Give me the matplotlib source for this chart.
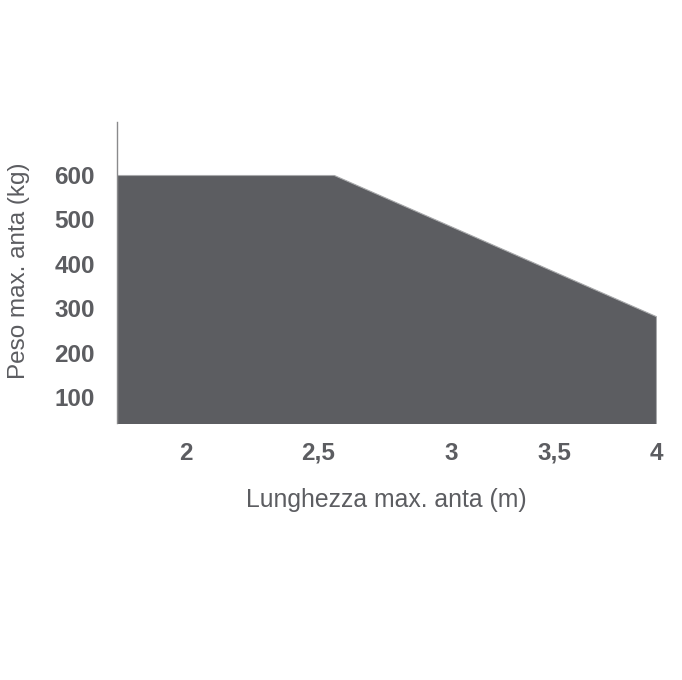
import numpy as np
import matplotlib
matplotlib.use('Agg')
import matplotlib.pyplot as plt

# data
length_m = [1.74, 2.56, 4.0]
weight_kg = [600, 600, 282]

x_ticks = [2, 2.5, 3, 3.5, 4]
x_tick_labels = ['2', '2,5', '3', '3,5', '4']
y_ticks = [100, 200, 300, 400, 500, 600]
y_tick_labels = ['100', '200', '300', '400', '500', '600']

# the original axis is not evenly spaced: piecewise-linear scale
scale_in = [1.5, 2, 2.5, 3, 3.5, 4]
scale_out = [-132.5, 0, 132, 265, 368, 470]


def forward(x):
    return np.interp(x, scale_in, scale_out)


def inverse(x):
    return np.interp(x, scale_out, scale_in)


plt.rcParams['font.family'] = ['Liberation Sans', 'DejaVu Sans']
text_color = '#5c5d61'

fig = plt.figure(figsize=(6.82, 6.80), dpi=100)
ax = fig.add_axes([117 / 682, 1 - 423 / 680, (656 - 117) / 682, (423 - 122) / 680])

ax.set_xscale('function', functions=(forward, inverse))
ax.fill_between(length_m, weight_kg, 0, facecolor='#5c5d61', edgecolor='#a8a9ab', linewidth=0.8)

ax.set_xlim(1.74, 4.0)
ax.set_ylim(41.4, 719.4)

ax.set_xticks(x_ticks)
ax.set_xticklabels(x_tick_labels)
ax.set_yticks(y_ticks)
ax.set_yticklabels(y_tick_labels)
ax.tick_params(length=0, labelsize=17.5, labelcolor=text_color)
ax.tick_params(axis='x', pad=26.5)
ax.tick_params(axis='y', pad=16)
for lab in ax.get_xticklabels():
    lab.set_fontweight('bold')
    lab.set_verticalalignment('baseline')
for lab in ax.get_yticklabels():
    lab.set_fontweight('bold')

for side in ['top', 'right', 'bottom']:
    ax.spines[side].set_visible(False)
ax.spines['left'].set_color('#8a8a8c')
ax.spines['left'].set_linewidth(1.0)

ax.set_xlabel('Lunghezza max. anta (m)', fontsize=17.8, color=text_color)
ax.xaxis.set_label_coords(0.5, -0.215)
ax.set_ylabel('Peso max. anta (kg)', fontsize=17.5, color=text_color)
ax.yaxis.set_label_coords(-0.161, 0.505)

fig.savefig('out.png', dpi=100)
